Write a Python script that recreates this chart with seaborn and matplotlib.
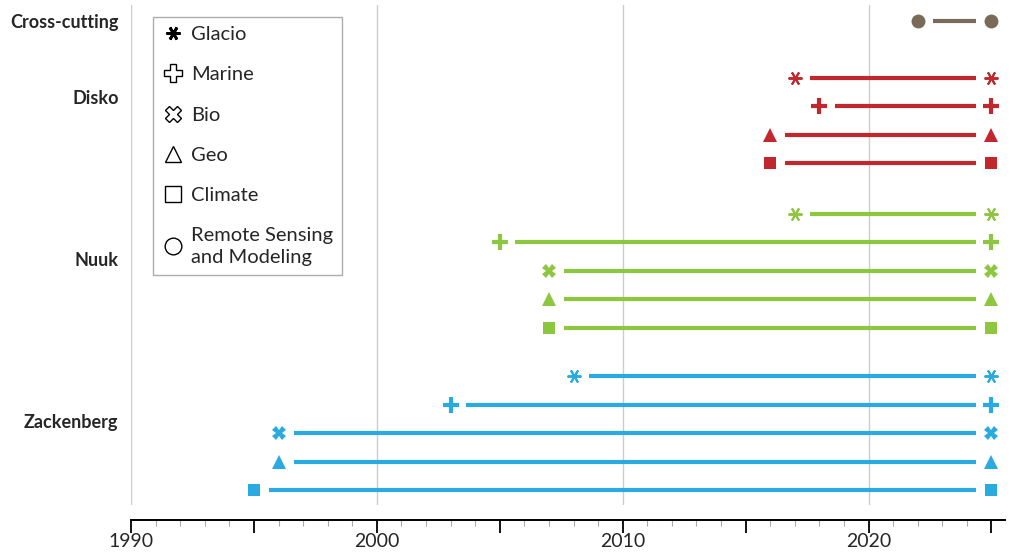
import matplotlib
matplotlib.use("Agg")
import matplotlib.pyplot as plt
from matplotlib.lines import Line2D
import seaborn as sns
import pandas as pd
import numpy as np

# Monitoring programs per site: start year, all run until end_year
groups = ["Cross-cutting", "Disko", "Nuuk", "Zackenberg"]
programs = [
    ["Remote Sensing and Modeling"],
    ["Glacio", "Marine", "Geo", "Climate"],
    ["Glacio", "Marine", "Bio", "Geo", "Climate"],
    ["Glacio", "Marine", "Bio", "Geo", "Climate"],
]
start_years = [
    [2022],
    [2017, 2018, 2016, 2016],
    [2017, 2005, 2007, 2007, 2007],
    [2008, 2003, 1996, 1996, 1995],
]
end_year = 2025

colors = {"Cross-cutting": "#7a6a58", "Disko": "#c1272d",
          "Nuuk": "#8dc63f", "Zackenberg": "#29abe2"}
markers = {"Glacio": (6, 2, 90), "Marine": "+", "Bio": "X", "Geo": "^",
           "Climate": "s", "Remote Sensing and Modeling": "o"}
msizes = {"Glacio": 10, "Marine": 11, "Bio": 10, "Geo": 10, "Climate": 9,
          "Remote Sensing and Modeling": 10}
legend_labels = ["Glacio", "Marine", "Bio", "Geo", "Climate",
                 "Remote Sensing\nand Modeling"]

# row layout
group_first_row = [0, 2, 6.77, 12.46]
label_offset = [0, 0.67, 1.58, 1.58]

rows = []
for g, first, progs, starts in zip(groups, group_first_row, programs, start_years):
    for i, (p, s) in enumerate(zip(progs, starts)):
        rows.append({"site": g, "program": p, "start": s, "end": end_year, "y": first + i})
df = pd.DataFrame(rows)

sns.set_style("white")
plt.rcParams["font.family"] = ["Lato", "DejaVu Sans"]
plt.rcParams["xtick.labelsize"] = 14

fig = plt.figure(figsize=(10.11, 5.52), dpi=100)
ax = fig.add_axes([131 / 1011, 1 - 505 / 552, (1005 - 131) / 1011, 500 / 552])

gap = 0.62
for _, r in df.iterrows():
    c = colors[r["site"]]
    ax.plot([r["start"] + gap, r["end"] - gap], [r["y"], r["y"]], color=c, lw=3,
            solid_capstyle="butt", zorder=2)
    p = r["program"]
    if p == "Glacio":
        mew = 1.4
    elif p == "Marine":
        mew = 3
    else:
        mew = 0
    ax.plot([r["start"], r["end"]], [r["y"], r["y"]], ls="none", marker=markers[p],
            ms=msizes[p], mew=mew, color=c, zorder=3)

for yr in [1990, 2000, 2010, 2020]:
    ax.axvline(yr, color="#cccccc", lw=1, zorder=0)

ax.set_xlim(1990, 2025.55)
ax.set_ylim(16.98, -0.56)

ax.set_xticks(np.arange(1990, 2026, 5))
ax.set_xticklabels([str(y) if y % 10 == 0 else "" for y in range(1990, 2026, 5)], fontsize=14)
ax.set_xticks(np.arange(1990, 2026, 1), minor=True)
ax.tick_params(axis="x", which="major", length=9, width=1.3, color="black", pad=0,
               bottom=True, labelsize=14)
ax.tick_params(axis="x", which="minor", length=4.5, width=0.8, color="#aaaaaa", bottom=True)
# five-year ticks a little shorter than the decade ticks
for yr, t in zip(range(1990, 2026, 5), ax.xaxis.get_major_ticks()):
    if yr % 10 != 0:
        t.tick1line.set_markersize(6)
        t.tick1line.set_markeredgewidth(1.1)

ax.set_yticks([f + o for f, o in zip(group_first_row, label_offset)])
ax.set_yticklabels(groups, fontweight="bold")
ax.tick_params(axis="y", length=0, pad=9, labelsize=13)

for s in ["top", "right", "left"]:
    ax.spines[s].set_visible(False)
ax.spines["bottom"].set_position(("outward", 11))
ax.spines["bottom"].set_color("black")
ax.spines["bottom"].set_linewidth(1.4)

handles = []
for p in markers:
    if p == "Glacio":
        h = Line2D([], [], ls="none", marker=markers[p], ms=10, mew=2, color="black")
    elif p == "Marine":
        h = Line2D([], [], ls="none", marker="P", ms=13, mfc="white", mec="black", mew=1)
    else:
        h = Line2D([], [], ls="none", marker=markers[p], ms=12 if p != "Climate" else 11,
                   mfc="white", mec="black", mew=1)
    handles.append(h)
leg = ax.legend(handles, legend_labels, loc="upper left", bbox_to_anchor=(0.025, 0.976),
                fontsize=14.5, frameon=True, fancybox=False, labelspacing=1.15,
                handletextpad=0.35, handlelength=1.1, borderpad=0.45, borderaxespad=0)
for t in leg.get_texts():
    t.set_linespacing(1.3)
leg.get_frame().set_edgecolor("#999999")
leg.get_frame().set_linewidth(1)

fig.savefig("out.png", dpi=100)
